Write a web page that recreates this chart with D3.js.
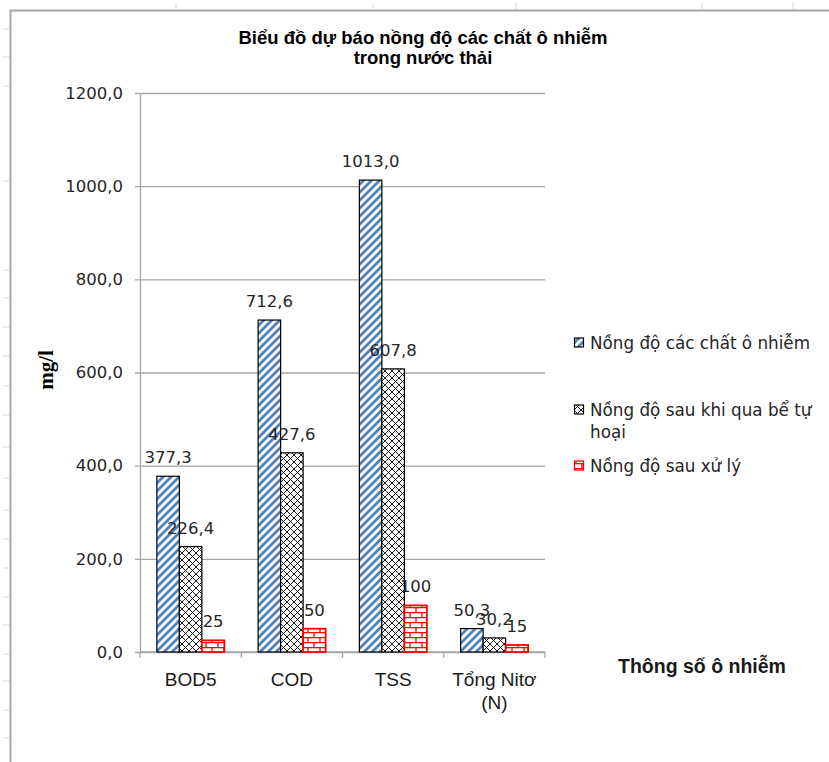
<!DOCTYPE html>
<html>
<head>
<meta charset="utf-8">
<script src="https://cdn.jsdelivr.net/npm/d3@7"></script>
<style>
  html, body { margin: 0; padding: 0; background: #fff; }
  svg { display: block; }
</style>
</head>
<body>
<svg id="chart" width="829" height="762"></svg>
<script>
// Pollution parameters (categories) and forecast concentrations in mg/l
const categories = ["BOD5", "COD", "TSS", "Tổng Nitơ (N)"];
const seriesNames = [
  "Nồng độ các chất ô nhiễm",
  "Nồng độ sau khi qua bể tự hoại",
  "Nồng độ sau xử lý"
];
const rawConcentration = [377.3, 712.6, 1013.0, 50.3];
const afterSepticTank = [226.4, 427.6, 607.8, 30.2];
const afterTreatment = [25, 50, 100, 15];
const labelDecimals = [1, 1, 0];
const yTicks = [0, 200, 400, 600, 800, 1000, 1200];

const seriesValues = [rawConcentration, afterSepticTank, afterTreatment];

const svg = d3.select("#chart");
const W = 829, H = 762;
const plot = { left: 140, right: 545, top: 93, bottom: 652 };
const labelFont = "'DejaVu Sans', sans-serif";
const boldFont = "'Liberation Sans', Arial, sans-serif";

// ---------- fill patterns ----------
const defs = svg.append("defs");

const stripe = defs.append("pattern").attr("id", "pat-stripe")
  .attr("patternUnits", "userSpaceOnUse").attr("width", 8).attr("height", 8);
stripe.append("rect").attr("width", 8).attr("height", 8).attr("fill", "#fff");
stripe.append("path")
  .attr("d", "M-1,9 L9,-1 M-2,2 L2,-2 M6,10 L10,6")
  .attr("stroke", "#4f81bd").attr("stroke-width", 2.8);

const cross = defs.append("pattern").attr("id", "pat-cross")
  .attr("patternUnits", "userSpaceOnUse").attr("width", 7).attr("height", 7);
cross.append("rect").attr("width", 7).attr("height", 7).attr("fill", "#fff");
cross.append("path")
  .attr("d", "M0,0 L7,7 M7,0 L0,7")
  .attr("stroke", "#000").attr("stroke-width", 0.9);

const brick = defs.append("pattern").attr("id", "pat-brick")
  .attr("patternUnits", "userSpaceOnUse").attr("width", 12).attr("height", 10)
  .attr("y", plot.bottom);
brick.append("rect").attr("width", 12).attr("height", 10).attr("fill", "#fff");
brick.append("path")
  .attr("d", "M0,0.6 H12 M0,5.6 H12 M2,0.6 V5.6 M8,5.6 V10")
  .attr("stroke", "#ff0000").attr("stroke-width", 1.3);

const fills = ["url(#pat-stripe)", "url(#pat-cross)", "url(#pat-brick)"];
const strokes = ["#000", "#000", "#ff0000"];
const strokeWidths = [1.2, 1.2, 1.8];

// ---------- chart frame and sheet guides ----------
const guide = svg.append("g");
const rowMarks = [29, 57, 86, 181, 270, 298, 327, 356, 386, 415, 447, 478, 510, 539, 568, 597, 625, 654, 681, 710, 738];
const colMarks = [176, 373, 516, 702, 793];
guide.selectAll("line.row").data(rowMarks).join("line")
  .attr("x1", 3).attr("x2", 9).attr("y1", d => d).attr("y2", d => d)
  .attr("stroke", "#d4d4d4").attr("stroke-width", 1);
guide.selectAll("line.col").data(colMarks).join("line")
  .attr("x1", d => d).attr("x2", d => d).attr("y1", 3).attr("y2", 9)
  .attr("stroke", "#d4d4d4").attr("stroke-width", 1);
guide.append("path")
  .attr("d", `M10.5,${H} V10.5 H${W}`)
  .attr("fill", "none").attr("stroke", "#a6a6a6").attr("stroke-width", 2);

// ---------- scales ----------
const x = d3.scaleBand().domain(categories).range([plot.left, plot.right]).padding(0);
const xs = d3.scaleBand().domain(d3.range(seriesNames.length))
  .range([0, x.bandwidth()]).paddingInner(0).paddingOuter(0.75);
const y = d3.scaleLinear().domain([0, 1200]).range([plot.bottom, plot.top]);

const fmt = dec => v => d3.format(`.${dec}f`)(v).replace(".", ",");

// gridlines + y axis
const yAxis = d3.axisLeft(y).tickValues(yTicks).tickFormat(fmt(1))
  .tickSize(-(plot.right - plot.left)).tickSizeOuter(0).tickPadding(17);
const gy = svg.append("g").attr("transform", `translate(${plot.left},0)`).call(yAxis);
gy.select(".domain").attr("stroke", "#a6a6a6").attr("stroke-width", 1.3);
gy.selectAll(".tick line").attr("stroke", "#a6a6a6").attr("stroke-width", 1.3)
  .attr("x1", -5);
gy.selectAll(".tick text")
  .attr("font-family", labelFont).attr("font-size", 16.5).attr("fill", "#262626");

// x axis: ticks at category boundaries
const gx = svg.append("g").attr("transform", `translate(0,${plot.bottom})`);
gx.append("line").attr("x1", plot.left).attr("x2", plot.right)
  .attr("stroke", "#a6a6a6").attr("stroke-width", 1.3);
const bounds = categories.map(c => x(c)).concat([x.range()[1]]);
gx.selectAll("line.tk").data(bounds).join("line").attr("class", "tk")
  .attr("x1", d => d).attr("x2", d => d).attr("y1", 0).attr("y2", 6)
  .attr("stroke", "#a6a6a6").attr("stroke-width", 1.3);

// category labels (wrapped)
const catLines = {"Tổng Nitơ (N)": ["Tổng Nitơ", "(N)"]};
gx.selectAll("text.cat").data(categories).join("text").attr("class", "cat")
  .attr("text-anchor", "middle")
  .attr("font-family", boldFont).attr("font-size", 19).attr("fill", "#1a1a1a")
  .each(function (c) {
    const lines = catLines[c] || [c];
    d3.select(this).selectAll("tspan").data(lines).join("tspan")
      .attr("x", x(c) + x.bandwidth() / 2)
      .attr("y", (d, i) => 34 + i * 23)
      .text(d => d);
  });

// ---------- bars ----------
const barData = [];
seriesValues.forEach((vals, s) => vals.forEach((v, i) => barData.push({ s, c: categories[i], v })));

svg.append("g").selectAll("rect").data(barData).join("rect")
  .attr("x", d => x(d.c) + xs(d.s))
  .attr("y", d => y(d.v))
  .attr("width", xs.bandwidth())
  .attr("height", d => y(0) - y(d.v))
  .attr("fill", d => fills[d.s])
  .attr("stroke", d => strokes[d.s])
  .attr("stroke-width", d => strokeWidths[d.s]);

svg.append("g").selectAll("text").data(barData).join("text")
  .attr("x", d => x(d.c) + xs(d.s) + xs.bandwidth() / 2)
  .attr("y", d => y(d.v) - 13)
  .attr("text-anchor", "middle")
  .attr("font-family", labelFont).attr("font-size", 16.5).attr("fill", "#262626")
  .text(d => fmt(labelDecimals[d.s])(d.v));

// ---------- titles ----------
svg.append("text").attr("text-anchor", "middle")
  .attr("font-family", boldFont).attr("font-weight", "bold").attr("font-size", 18.5)
  .attr("fill", "#000")
  .selectAll("tspan").data(["Biểu đồ dự báo nồng độ các chất ô nhiễm", "trong nước thải"])
  .join("tspan").attr("x", 423).attr("y", (d, i) => 44 + i * 20).text(d => d);

svg.append("text")
  .attr("transform", "translate(53,370) rotate(-90)")
  .attr("text-anchor", "middle")
  .attr("font-family", "'Liberation Serif', 'Times New Roman', serif")
  .attr("font-weight", "bold").attr("font-size", 21).attr("fill", "#000")
  .text("mg/l");

svg.append("text").attr("x", 702).attr("y", 673).attr("text-anchor", "middle")
  .attr("font-family", boldFont).attr("font-weight", "bold").attr("font-size", 19.5)
  .attr("fill", "#1a1a1a").text("Thông số ô nhiễm");

// ---------- legend ----------
const legendLines = [["Nồng độ các chất ô nhiễm"], ["Nồng độ sau khi qua bể tự", "hoại"], ["Nồng độ sau xử lý"]];
const legendY = [343, 410, 466];
const lg = svg.append("g");
seriesNames.forEach((name, s) => {
  const g = lg.append("g").attr("transform", `translate(574,${legendY[s]})`);
  g.append("rect").attr("x", 0.5).attr("y", -5).attr("width", 9).attr("height", 9)
    .attr("fill", fills[s]).attr("stroke", strokes[s]).attr("stroke-width", 1.2);
  g.append("text")
    .attr("font-family", labelFont).attr("font-size", 16.8).attr("fill", "#262626")
    .selectAll("tspan").data(legendLines[s]).join("tspan")
    .attr("x", 16).attr("y", (d, i) => 6 + i * 22).text(d => d);
});
</script>
</body>
</html>
